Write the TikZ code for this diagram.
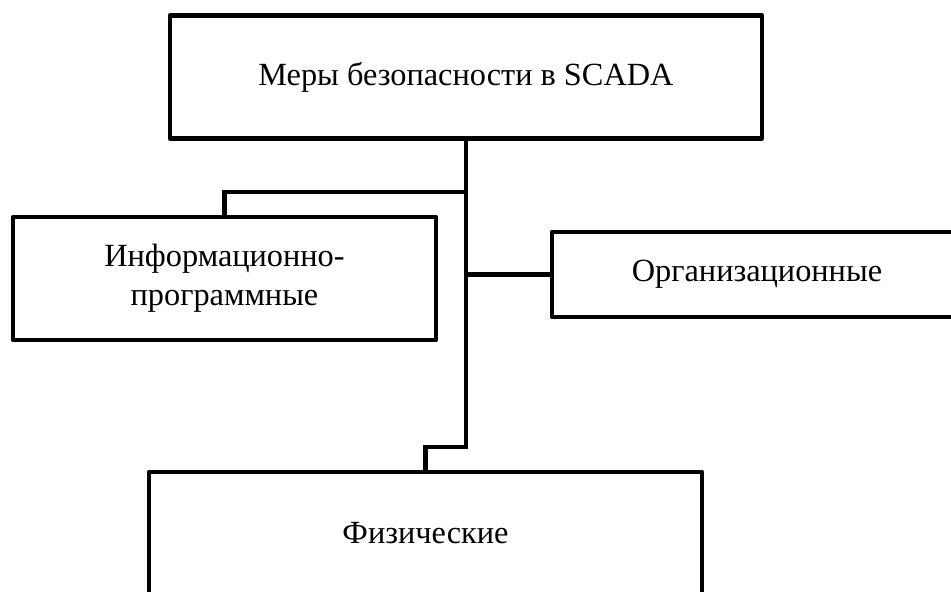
\documentclass[tikz,border=0pt]{standalone}
\usepackage{fontspec}
\setmainfont{Liberation Serif}
\usepackage{xcolor}
\usepackage{tikz}
\definecolor{mydark}{RGB}{0,0,0}
\tikzset{
  block/.style={rectangle, draw=mydark, fill=white, align=center,
    inner sep=0pt, line width=0.09cm, line join=round,
    font=\fontsize{18.4}{22}\selectfont},
  line/.style={line width=0.09cm, color=mydark, line join=miter}
}

\begin{document}
\begin{tikzpicture}[x=0.02cm, y=-0.02cm]
  \useasboundingbox (0,0) rectangle (951,592);

  \node[block, minimum width=11.84cm, minimum height=2.46cm] (root) at (466,77) {Меры безопасности в SCADA};

  \node[block, minimum width=8.46cm, minimum height=2.46cm] (info) at (224.5,278.5) {Информационно-\\программные};
  \node[block, minimum width=8.2cm, minimum height=1.7cm] (org) at (757,274.5) {Организационные};
  \node[block, minimum width=11.06cm, minimum height=2.46cm] (phys) at (425.5,533.5) {Физические};

  \coordinate (jinfo) at (466,192);
  \coordinate (jphys) at (466,447);

  \draw[line] (root.south) -- (jphys) -| (phys.north);
  \draw[line] (jinfo) -| (info.north);
  \draw[line] (root.south |- org.west) -- (org.west);
\end{tikzpicture}
\end{document}
